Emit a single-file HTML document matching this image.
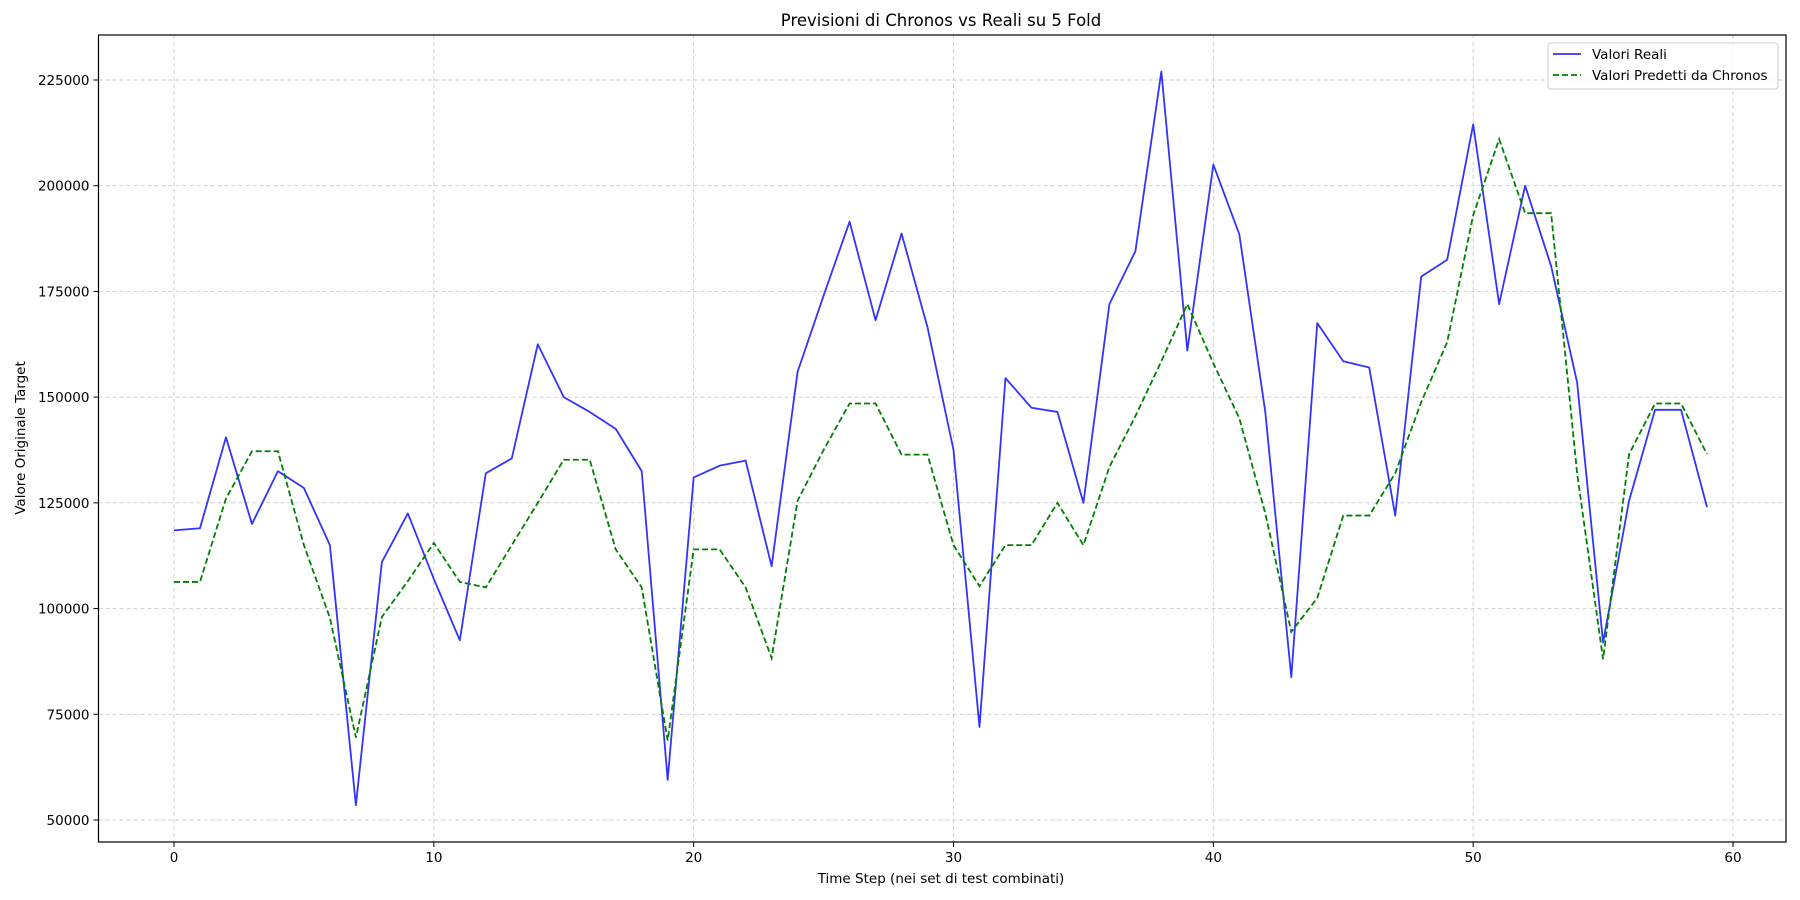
<!DOCTYPE html>
<html><head><meta charset="utf-8"><style>
body{margin:0;background:#fff;}
svg{display:block;font-family:"DejaVu Sans","Liberation Sans",sans-serif;}
</style></head><body>
<svg id="chart" width="1800" height="900">
<text x="941" y="26" font-size="16.5" text-anchor="middle">Previsioni di Chronos vs Reali su 5 Fold</text>
<g id="grid"></g><g id="series"></g><g id="axes"></g>
<text x="941" y="883" font-size="13.5" text-anchor="middle">Time Step (nei set di test combinati)</text>
<text transform="translate(25,438) rotate(-90)" font-size="13.5" text-anchor="middle">Valore Originale Target</text>
<g>
<rect x="1548" y="43" width="230" height="46" rx="3" fill="#fff" fill-opacity="0.8" stroke="#ccc"/>
<line x1="1553" y1="54" x2="1581" y2="54" stroke="#3333ff" stroke-width="1.8"/>
<text x="1592" y="59" font-size="13.5">Valori Reali</text>
<line x1="1553" y1="75" x2="1581" y2="75" stroke="#008000" stroke-width="1.8" stroke-dasharray="6,3"/>
<text x="1592" y="80" font-size="13.5">Valori Predetti da Chronos</text>
</g>
</svg>
<script>
const realValues=[118500,119000,140500,120000,132500,128500,115000,53500,111000,122500,107000,92500,132000,135500,162500,150000,146500,142500,132500,59500,131000,133800,135000,110000,156000,174000,191500,168200,188700,166500,137500,72000,154500,147500,146500,125000,172000,184500,227000,161000,205000,188500,146500,83800,167500,158500,157000,122000,178500,182500,214500,172000,200000,181000,153500,92000,125500,147000,147000,124000];
const predValues=[106300,106300,126000,137200,137200,115000,97800,69500,98000,106500,115500,106300,105000,115000,125000,135200,135200,114000,105000,68800,114000,114000,105000,88300,125500,137500,148500,148500,136400,136400,115000,105300,115000,115000,125000,115000,133500,145500,158500,172000,158000,145000,122500,94500,102500,122000,122000,132000,148800,163000,193000,211000,193500,193500,132000,88000,136500,148500,148500,136500];
const xTicks=[0,10,20,30,40,50,60];
const yTicks=[50000,75000,100000,125000,150000,175000,200000,225000];
const L=98.5,R=1786,T=35,B=842;
const X=v=>174+v*(1733-174)/60;
const Y=v=>820-(v-50000)*(820-80)/175000;
const NS="http://www.w3.org/2000/svg";
function mk(p,tag,a){const e=document.createElementNS(NS,tag);for(const k in a)e.setAttribute(k,a[k]);p.appendChild(e);return e;}
const grid=document.getElementById('grid'),axes=document.getElementById('axes'),ser=document.getElementById('series');
xTicks.forEach(t=>{
 const g=mk(grid,'line',{x1:X(t),x2:X(t),y1:T,y2:B,stroke:'#ccc','stroke-dasharray':'4,3','stroke-width':0.9});
 
 
 mk(axes,'line',{x1:X(t),x2:X(t),y1:B,y2:B+5,stroke:'#000'});
 const tx=mk(axes,'text',{x:X(t),y:B+20,'font-size':13.5,'text-anchor':'middle'});tx.textContent=t;
 
 
});
yTicks.forEach(t=>{
 const g=mk(grid,'line',{x1:L,x2:R,y1:Y(t),y2:Y(t),stroke:'#ccc','stroke-dasharray':'4,3','stroke-width':0.9});
 
 
 mk(axes,'line',{x1:L-5,x2:L,y1:Y(t),y2:Y(t),stroke:'#000'});
 const tx=mk(axes,'text',{x:L-9,y:Y(t)+5,'font-size':13.5,'text-anchor':'end'});tx.textContent=t;
 
 
});
const fr=mk(axes,'rect',{x:L,y:T,width:R-L,height:B-T,fill:'none',stroke:'#000','stroke-width':1.2});


const p1=mk(ser,'polyline',{points:realValues.map((v,i)=>X(i)+','+Y(v)).join(' '),fill:'none',stroke:'#3333ff','stroke-width':1.8,'stroke-linejoin':'round'});


const p2=mk(ser,'polyline',{points:predValues.map((v,i)=>X(i)+','+Y(v)).join(' '),fill:'none',stroke:'#008000','stroke-width':1.8,'stroke-dasharray':'6,3'});


</script>
</body></html>
